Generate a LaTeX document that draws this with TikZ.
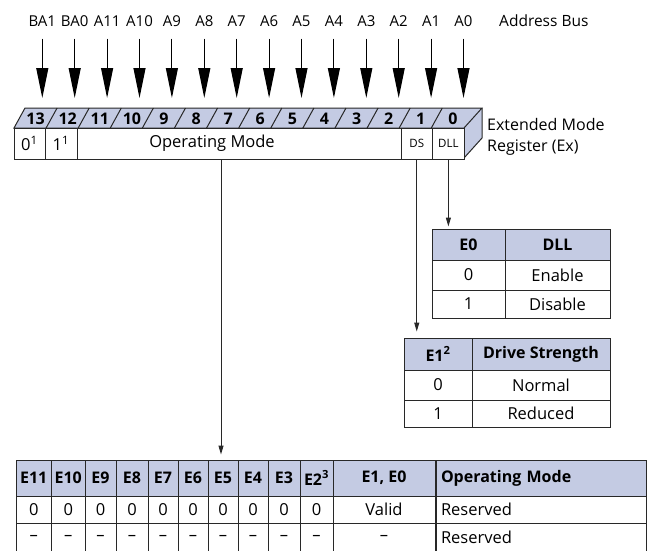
\documentclass[tikz,border=0pt]{standalone}
\usepackage{fontspec}
\setmainfont{Open Sans}
\usetikzlibrary{arrows.meta,calc,positioning}
\tikzset{>=stealth}
\definecolor{regblue}{RGB}{196,203,227}
\definecolor{rule}{RGB}{40,40,40}
\tikzset{
  txt/.style={font=\fontsize{15}{18}\selectfont, inner sep=0pt},
  bnum/.style={font=\fontsize{16}{18}\selectfont\bfseries, inner sep=0pt},
  cell/.style={draw=rule, line width=1pt, inner sep=0pt, font=\fontsize{16.5}{18}\selectfont},
  hcell/.style={cell, fill=regblue, font=\fontsize{16}{18}\selectfont\bfseries},
  busarrow/.style={-{Triangle[length=30pt,width=12pt]}, line width=1.1pt},
  tabarrow/.style={-{Triangle[length=9pt,width=5pt]}, line width=1pt, draw=rule},
}

\begin{document}
\begin{tikzpicture}[x=1pt,y=-1pt]
\useasboundingbox (0,0) rectangle (649,550);

% address bus
\coordinate (regtop) at (0,98);
\foreach \t [count=\k from 0] in {BA1,BA0,A11,A10,A9,A8,A7,A6,A5,A4,A3,A2,A1,A0}
  \node[txt, anchor=base] (bus\k) at (42.3+32.4*\k,26.5) {\t};
\foreach \k in {0,...,13}
  \draw[busarrow] ([yshift=-12pt]bus\k.base) -- (bus\k.base |- regtop);
\node[txt, anchor=base west, font=\fontsize{15.5}{18}\selectfont] (busname) at (499,26.5) {Address Bus};

% register, top and side faces
\fill [regblue] (14,128)--(25,108)--(482,108)--(464,128)--cycle;
\fill [regblue] (464,128)--(482,108)--(482,138)--(464,158)--cycle;
\draw [line width=1pt, rule] (14,128)--(25,108)--(482,108)--(464,128)--cycle;
\draw [line width=1pt, rule] (482,108)--(482,138)--(464,158);
\foreach \k in {1,...,13}
  \draw [line width=1pt, rule] (14+32.1*\k,128)--(25+32.1*\k,108);
\foreach \n [count=\k from 0] in {13,12,11,10,9,8,7,6,5,4,3,2,1,0}
  \node[bnum] (bit\n) at (35.6+32.1*\k,118.5) {\n};

% register, front face
\node[cell, fill=white, minimum width=31pt, minimum height=31pt] (ba1) at (29.5,143.5) {0\textsuperscript{1}};
\node[cell, fill=white, minimum width=32pt, minimum height=31pt] (ba0) at (61,143.5) {1\textsuperscript{1}};
\node[cell, fill=white, minimum width=324pt, minimum height=31pt] (opm) at (239,143.5) {};
\node[txt, font=\fontsize{16.5}{18}\selectfont] (opmtext) at (212,143.5) {Operating Mode};
\node[cell, fill=white, minimum width=31.5pt, minimum height=31pt, font=\fontsize{11.5}{12}\selectfont] (ds) at (416.75,143.5) {DS};
\node[cell, fill=white, minimum width=31.8pt, minimum height=31pt, font=\fontsize{11.5}{12}\selectfont] (dll) at (448.4,143.5) {DLL};
\node[txt, anchor=west, align=left, font=\fontsize{16}{21}\selectfont] (regname) at (487,137) {Extended Mode\\Register (Ex)};

% DLL table
\node[hcell, minimum width=73pt, minimum height=31pt] (e0h) at (468.5,244.5) {E0};
\node[hcell, minimum width=105pt, minimum height=31pt] (dllh) at (557.5,244.5) {DLL};
\node[cell, minimum width=73pt, minimum height=30pt] (e0a) at (468.5,275) {0};
\node[cell, minimum width=105pt, minimum height=30pt] (dlla) at (557.5,275) {Enable};
\node[cell, minimum width=73pt, minimum height=28pt] (e0b) at (468.5,304) {1};
\node[cell, minimum width=105pt, minimum height=28pt] (dllb) at (557.5,304) {Disable};

% drive strength table
\node[hcell, minimum width=68pt, minimum height=32pt] (e1h) at (438,354) {E1\textsuperscript{2}};
\node[hcell, minimum width=138pt, minimum height=32pt] (dsh) at (541,354) {Drive Strength};
\node[cell, minimum width=68pt, minimum height=30pt] (e1a) at (438,385) {0};
\node[cell, minimum width=138pt, minimum height=30pt] (dsa) at (541,385) {Normal};
\node[cell, minimum width=68pt, minimum height=27pt] (e1b) at (438,413.5) {1};
\node[cell, minimum width=138pt, minimum height=27pt] (dsb) at (541,413.5) {Reduced};

% operating mode table
\foreach \l/\r/\n/\t in {16/51.5/e11/E11,51.5/85/e10/E10,85/116/e9/E9,116/148/e8/E8,148/178/e7/E7,178/208/e6/E6,208/238/e5/E5,238/268/e4/E4,268/300/e3/E3,300/333/e2/E2\textsuperscript{3}}{
  \node[hcell, minimum width=\r pt-\l pt, minimum height=36pt] (\n) at ({(\l+\r)/2},478) {\t};
  \node[cell, minimum width=\r pt-\l pt, minimum height=27pt] (\n a) at ({(\l+\r)/2},509.5) {0};
  \node[cell, minimum width=\r pt-\l pt, minimum height=29pt] (\n b) at ({(\l+\r)/2},537.5) {–};
}
\node[hcell, minimum width=102pt, minimum height=36pt] (e10h) at (384,478) {E1, E0};
\node[cell, minimum width=102pt, minimum height=27pt] (e10a) at (384,509.5) {Valid};
\node[cell, minimum width=102pt, minimum height=29pt] (e10b) at (384,537.5) {–};
\node[hcell, minimum width=210pt, minimum height=36pt, text width=200pt, align=left] (omh) at (541,478) {Operating Mode};
\node[cell, minimum width=210pt, minimum height=27pt, text width=200pt, align=left] (oma) at (541,509.5) {Reserved};
\node[cell, minimum width=210pt, minimum height=29pt, text width=200pt, align=left] (omb) at (541,537.5) {Reserved};

% connectors
\draw[tabarrow, shorten >=2pt] (dll.south) -- (dll.south |- e0h.north);
\draw[tabarrow, shorten >=6pt] (ds.south) -- (ds.south |- e1h.north);
\draw[tabarrow, shorten >=5pt] ([xshift=-2pt]e5.north |- opm.south) -- ([xshift=-2pt]e5.north);
\end{tikzpicture}
\end{document}
